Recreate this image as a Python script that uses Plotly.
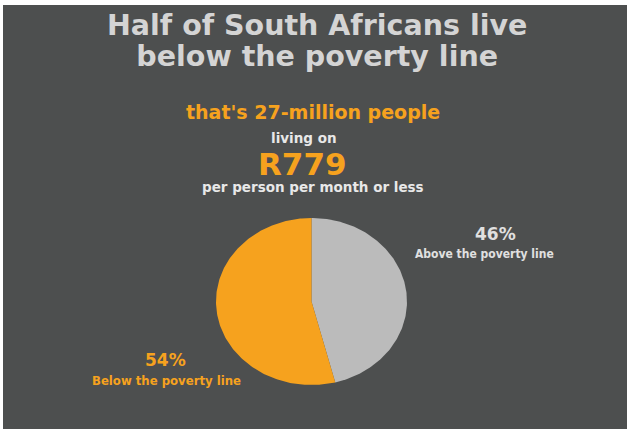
import numpy as np
import plotly.graph_objects as go

# Share of the population on each side of the poverty line (%)
groups = ["Above the poverty line", "Below the poverty line"]
shares = [46, 54]
share_labels = ["46%", "54%"]
slice_colors = ["#BBBBBB", "#F6A21E"]

title_lines = ["Half of South Africans live", "below the poverty line"]
people_line = "that's 27-million people"
living_line = "living on"
amount_line = "R779"
period_line = "per person per month or less"

BG = "#4D4F4F"
ORANGE = "#F6A21E"
W, H = 629, 435

# pie geometry (slightly oval disc)
cx, cy, rx, ry = 311.5, 301.5, 95.5, 83.5

fig = go.Figure()

total = float(sum(shares))
start = 0.0
for name, val, col in zip(groups, shares, slice_colors):
    end = start + val / total
    t = np.linspace(2 * np.pi * start, 2 * np.pi * end, 200)
    xs = np.concatenate([[cx], cx + rx * np.sin(t), [cx]])
    ys = np.concatenate([[cy], cy - ry * np.cos(t), [cy]])
    fig.add_trace(go.Scatter(
        x=xs, y=ys, mode="lines", fill="toself", fillcolor=col,
        line=dict(width=0, color=col), name=name, hoverinfo="name",
        showlegend=False,
    ))
    start = end

head_font = "DejaVu Sans, sans-serif"
narrow_font = "DejaVu Sans Condensed, DejaVu Sans, sans-serif"

ann = []


def txt(x, y, s, size, color, family=head_font, height=None):
    a = dict(x=x, y=y, xref="x", yref="y", text=s, showarrow=False,
             xanchor="center", yanchor="middle", borderpad=0,
             font=dict(family=family, size=size, color=color, weight="bold"))
    if height is not None:
        a["height"] = height
    ann.append(a)


# headline: two-line block (line pitch follows the base font size)
big = '<span style="font-size:28.5px">{}</span>'
headline = "<br>".join(big.format(s) for s in title_lines)
txt(316.5, 40.5, headline, 23.8, "#D4D4D4")

txt(313, 111.5, people_line, 19, ORANGE)
txt(303.5, 138, living_line, 13.5, "#E8E8E8")
txt(302, 163.5, amount_line, 31, ORANGE, height=26)
txt(312.5, 187, period_line, 13.5, "#E8E8E8")

txt(495, 234, share_labels[0], 17, "#E0E0E0")
txt(484.5, 254, groups[0], 12, "#E0E0E0", family=narrow_font)
txt(165.5, 359.5, share_labels[1], 17, ORANGE)
txt(166, 380, groups[1], 13, ORANGE, family=narrow_font)

fig.update_layout(
    width=W, height=H,
    margin=dict(l=3, r=2, t=5, b=6, pad=0),
    paper_bgcolor="white",
    plot_bgcolor=BG,
    annotations=ann,
    xaxis=dict(range=[3, 627], visible=False, fixedrange=True),
    yaxis=dict(range=[429, 5], visible=False, fixedrange=True),
)

fig.write_html("out.html")
